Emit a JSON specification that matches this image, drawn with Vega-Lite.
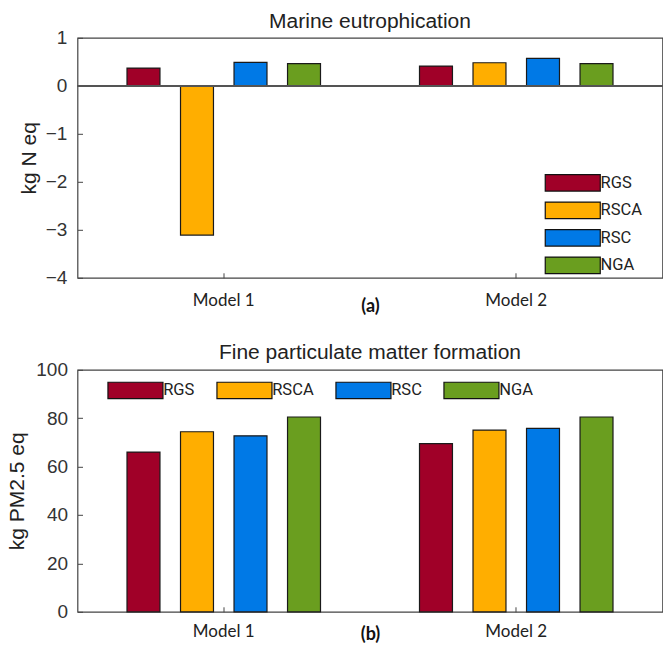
{
  "$schema": "https://vega.github.io/schema/vega-lite/v6.json",
  "padding": {"left": 5.5, "top": 9.8, "right": 0, "bottom": 0},
  "background": "white",
  "datasets": {
    "eut": [
      {"model": "Model 1", "series": "RGS", "value": 0.37},
      {"model": "Model 1", "series": "RSCA", "value": -3.11},
      {"model": "Model 1", "series": "RSC", "value": 0.49},
      {"model": "Model 1", "series": "NGA", "value": 0.46},
      {"model": "Model 2", "series": "RGS", "value": 0.41},
      {"model": "Model 2", "series": "RSCA", "value": 0.48},
      {"model": "Model 2", "series": "RSC", "value": 0.57},
      {"model": "Model 2", "series": "NGA", "value": 0.46}
    ],
    "pm": [
      {"model": "Model 1", "series": "RGS", "value": 66.0},
      {"model": "Model 1", "series": "RSCA", "value": 74.4},
      {"model": "Model 1", "series": "RSC", "value": 72.7},
      {"model": "Model 1", "series": "NGA", "value": 80.5},
      {"model": "Model 2", "series": "RGS", "value": 69.5},
      {"model": "Model 2", "series": "RSCA", "value": 75.1},
      {"model": "Model 2", "series": "RSC", "value": 75.8},
      {"model": "Model 2", "series": "NGA", "value": 80.5}
    ]
  },
  "vconcat": [
    {
      "width": 585,
      "height": 240,
      "title": {"text": "Marine eutrophication", "font": "Liberation Sans", "fontSize": 21, "fontWeight": "normal", "color": "#222", "offset": -3.5},
      "data": {"name": "eut"},
      "layer": [
        {
          "mark": {"type": "bar", "stroke": "#1a1a1a", "strokeWidth": 1.2},
          "encoding": {
            "x": {"field": "model", "type": "nominal", "scale": {"paddingInner": 0, "paddingOuter": 0},
                  "axis": {"orient": "bottom", "title": "(a)", "titleFont": "Lato", "titleFontWeight": "bold", "titleFontSize": 18, "titleColor": "#111", "titlePadding": -11,
                           "labelAngle": 0, "labelFont": "Lato", "labelFontSize": 17, "labelColor": "#222", "labelPadding": 20, "tickSize": -5, "tickColor": "#444", "bandPosition": 0.5}},
            "xOffset": {"field": "series", "type": "nominal", "sort": ["RGS", "RSCA", "RSC", "NGA"], "scale": {"paddingInner": 0.384, "paddingOuter": 0.925}},
            "y": {"field": "value", "type": "quantitative", "scale": {"domain": [-4, 1], "nice": false},
                  "axis": {"orient": "left", "values": [-4, -3, -2, -1, 0, 1], "title": "kg N eq", "titleFont": "Liberation Sans", "titleFontSize": 21, "titleFontWeight": "normal", "titleColor": "#222", "titlePadding": 6,
                           "labelFont": "Liberation Sans", "labelFontSize": 19, "labelColor": "#333", "labelPadding": 15.7, "tickSize": -5, "tickColor": "#444"}},
            "color": {"field": "series", "type": "nominal",
                      "scale": {"domain": ["RGS", "RSCA", "RSC", "NGA"], "range": ["#A00028", "#FFAE00", "#0079E6", "#6A9E1F"]},
                      "legend": {"orient": "none", "legendX": 467, "legendY": 136, "direction": "vertical", "title": null, "padding": 0,
                                 "symbolType": "M-1,-1H5.67V1H-1Z", "symbolSize": 272, "symbolStrokeColor": "#111", "symbolStrokeWidth": 1.2, "symbolOpacity": 1,
                                 "labelFont": "Roboto", "labelFontSize": 16.5, "labelColor": "#222", "labelOffset": 38, "rowPadding": 5.5}}
          }
        },
        {
          "mark": {"type": "rule", "color": "#555", "strokeWidth": 1.2},
          "encoding": {"y": {"datum": 0, "type": "quantitative"}}
        }
      ]
    },
    {
      "width": 585,
      "height": 242,
      "title": {"text": "Fine particulate matter formation", "font": "Liberation Sans", "fontSize": 21, "fontWeight": "normal", "color": "#222", "offset": -2.5},
      "data": {"name": "pm"},
      "mark": {"type": "bar", "stroke": "#1a1a1a", "strokeWidth": 1.2},
      "encoding": {
        "x": {"field": "model", "type": "nominal", "scale": {"paddingInner": 0, "paddingOuter": 0},
              "axis": {"orient": "bottom", "title": "(b)", "titleFont": "Lato", "titleFontWeight": "bold", "titleFontSize": 18, "titleColor": "#111", "titlePadding": -14,
                       "labelAngle": 0, "labelFont": "Lato", "labelFontSize": 17, "labelColor": "#222", "labelPadding": 17, "tickSize": -5, "tickColor": "#444", "bandPosition": 0.5}},
        "xOffset": {"field": "series", "type": "nominal", "sort": ["RGS", "RSCA", "RSC", "NGA"], "scale": {"paddingInner": 0.384, "paddingOuter": 0.925}},
        "y": {"field": "value", "type": "quantitative", "scale": {"domain": [0, 100], "nice": false},
              "axis": {"orient": "left", "values": [0, 20, 40, 60, 80, 100], "title": "kg PM2.5 eq", "titleFont": "Liberation Sans", "titleFontSize": 21, "titleFontWeight": "normal", "titleColor": "#222", "titlePadding": 8,
                       "labelFont": "Liberation Sans", "labelFontSize": 19, "labelColor": "#333", "labelPadding": 15, "tickSize": -5, "tickColor": "#444"}},
        "color": {"field": "series", "type": "nominal",
                  "scale": {"domain": ["RGS", "RSCA", "RSC", "NGA"], "range": ["#A00028", "#FFAE00", "#0079E6", "#6A9E1F"]},
                  "legend": {"orient": "none", "legendX": 29.7, "legendY": 11.5, "direction": "horizontal", "columns": 4, "title": null, "padding": 0,
                             "symbolType": "M-1,-1H5.67V1H-1Z", "symbolSize": 272, "symbolStrokeColor": "#111", "symbolStrokeWidth": 1.2, "symbolOpacity": 1,
                             "labelFont": "Roboto", "labelFontSize": 16.5, "labelColor": "#222", "labelOffset": 38, "columnPadding": 19}}
      }
    }
  ],
  "resolve": {"scale": {"color": "independent"}, "legend": {"color": "independent"}},
  "spacing": 24,
  "config": {
    "view": {"stroke": "#444", "strokeWidth": 1.2},
    "axis": {"grid": false, "domain": false},
    "font": "Liberation Sans"
  }
}
